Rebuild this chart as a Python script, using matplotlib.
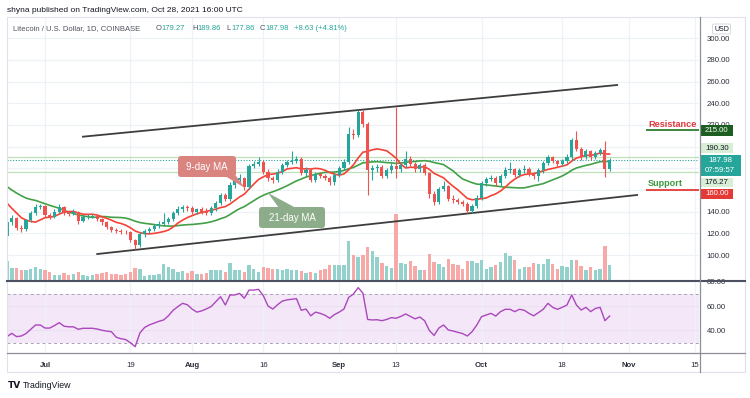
import numpy as np
import matplotlib
matplotlib.use("Agg")
import matplotlib.pyplot as plt
import matplotlib.dates as mdates
from matplotlib.patches import Rectangle, FancyBboxPatch, Polygon

plt.rcParams['font.family'] = ['Liberation Sans', 'DejaVu Sans']

# ---------------- data (LTC/USD, 1D, Coinbase) ----------------
first_date = "2021-06-23"
# closes of the 20 days before the first visible candle (MA warm-up)
prior_closes = [200, 183, 176, 178, 165, 163, 176, 170, 167, 167,
                173, 177, 176, 164, 163, 152, 150, 150, 127, 118]

opens = [118, 130, 134, 125, 124, 132, 139, 144, 145, 137,
         135, 140, 144, 139, 138, 140, 131, 135, 135.5, 136,
         133, 130, 126, 123, 122, 121.5, 121, 114, 109, 119,
         122, 124, 127, 129, 130, 133, 139, 142, 144, 143,
         140, 142, 140, 139, 143, 148, 155, 152, 165, 169,
         171, 163, 182, 184, 186, 177, 171, 169, 177, 183,
         186, 187, 189, 176, 178, 169, 175, 173, 171, 167,
         174, 180, 186, 212, 211, 232, 221, 178, 180, 181,
         173, 178, 182, 179, 183, 189, 184, 179, 183, 176,
         156, 149, 161, 164, 152, 151, 149, 147, 141, 145,
         153, 166, 170, 171, 166, 173, 178, 179, 174, 178,
         179, 175, 173, 178, 185, 190, 187, 184, 187, 190,
         206, 198, 190, 196, 190, 194, 197, 179.27]
highs = [136, 137, 135, 128, 133, 141, 147, 147, 146, 139,
         142, 147, 145, 141, 142, 141, 137, 138, 138, 138,
         134, 131, 127, 125, 124, 123, 122, 115, 121, 124,
         126, 129, 131, 139, 135, 141, 145, 146, 146, 145,
         143, 144, 143, 145, 150, 157, 157, 167, 171, 175,
         172, 184, 187, 190, 188, 179, 173, 179, 185, 188,
         196, 191, 190, 181, 179, 177, 177, 175, 173, 176,
         182, 189, 218, 216, 234, 234, 223, 183, 184, 183,
         180, 185, 237, 185, 196, 191, 186, 185, 185, 177,
         159, 163, 168, 165, 155, 153, 151, 149, 147, 155,
         168, 172, 174, 173, 175, 181, 186, 180, 180, 183,
         181, 177, 180, 187, 192, 191, 188, 189, 193, 208,
         214, 200, 198, 197, 196, 199, 205, 189.86]
lows = [116, 128, 123, 121, 122, 130, 137, 142, 135, 133,
        134, 139, 137, 136, 137, 129, 130, 133, 134, 131,
        128, 124, 121, 120, 119, 119, 112, 106, 107, 117,
        120, 122, 125, 127, 129, 131, 137, 140, 141, 138,
        138, 138, 137, 137, 141, 146, 150, 150, 162, 166,
        160, 161, 180, 182, 175, 168, 166, 167, 175, 181,
        184, 185, 174, 173, 167, 167, 171, 169, 165, 165,
        172, 178, 184, 207, 209, 218, 155, 169, 177, 171,
        171, 176, 171, 177, 181, 182, 177, 177, 174, 153,
        146, 147, 159, 150, 148, 147, 145, 139, 139, 143,
        151, 164, 168, 164, 164, 171, 176, 172, 172, 176,
        173, 170, 168, 176, 183, 185, 182, 182, 185, 188,
        196, 188, 189, 188, 189, 192, 172, 177.86]
closes = [130, 134, 125, 124, 132, 139, 144, 145, 137, 135,
          140, 144, 139, 138, 140, 131, 135, 135.5, 136, 133,
          130, 126, 123, 122, 121.5, 121, 114, 109, 119, 122,
          124, 127, 129, 130, 133, 139, 142, 144, 143, 140,
          142, 140, 139, 143, 148, 155, 152, 165, 169, 171,
          163, 182, 184, 186, 177, 171, 169, 177, 183, 186,
          187, 189, 176, 178, 169, 175, 173, 171, 167, 174,
          180, 186, 212, 211, 232, 221, 178, 180, 181, 173,
          178, 182, 179, 183, 189, 184, 179, 183, 176, 156,
          149, 161, 164, 152, 151, 149, 147, 141, 145, 153,
          166, 170, 171, 166, 173, 178, 179, 174, 178, 179,
          175, 173, 178, 185, 190, 187, 184, 187, 190, 206,
          198, 190, 196, 190, 194, 197, 179.27, 187.98]
volumes = [19, 12, 12, 9.5, 10, 11, 13, 11, 9.5, 8,
           5, 5, 7, 4.5, 6, 8, 4.5, 3.5, 5, 6,
           7, 8, 5.5, 5.5, 5, 5.5, 8, 12, 10.5, 4,
           4.5, 5, 5.5, 16, 13, 11, 8, 9, 7, 8.5,
           6, 5.5, 7, 9.5, 9.5, 9.5, 8, 17, 9.5, 10,
           8, 15, 11, 8, 13, 12, 11, 11, 9.5, 11,
           10, 9.5, 9, 7, 8, 7, 9.5, 11, 15, 15,
           15, 15, 38.5, 25, 22.8, 24.5, 33, 28.5, 22.8, 17,
           13.5, 11.8, 65.5, 17, 16, 18.5, 13.8, 10, 9.5, 25.5,
           17.8, 15.5, 12.8, 21, 15.5, 15, 11, 18.5, 18.5, 17,
           19.5, 10.5, 13, 14.5, 17.8, 26.8, 23.5, 20, 10.5, 13,
           13, 16.8, 15.5, 16, 21, 15.5, 10.5, 13.5, 13, 19.5,
           20, 14, 9.5, 13, 10, 11, 33.5, 14.5]
rsi_values = [35, 37.7, 35, 35.5, 37.5, 41, 44.5, 44.5, 42, 42,
              44, 46.4, 43.5, 43, 43, 41, 41.8, 41.8, 41.8, 41.2,
              40.2, 39.5, 39, 34.5, 33.3, 32.6, 30, 26.8, 38, 42.5,
              44.6, 46, 47.5, 48.6, 52, 56.5, 59.5, 62.2, 61, 57.5,
              55, 56, 57.6, 59.5, 63.5, 67.6, 60.8, 69, 69, 70.3,
              66.3, 73, 73, 73.6, 68.5, 60, 57.5, 61, 64, 65,
              65.5, 66, 56.5, 57.5, 52, 55, 54, 52.5, 50, 53,
              55, 57.5, 67, 69.8, 75, 70.5, 49, 48.6, 48.8, 48,
              49, 50.5, 50, 51.5, 53.5, 51.5, 49.5, 51, 48, 40,
              36, 42, 44.5, 40.4, 39.6, 38.5, 37.5, 35.5, 39, 44.5,
              51.3, 52.7, 54, 51.8, 55.4, 57.3, 57.3, 55.4, 57.3, 56.5,
              54, 52, 54.6, 57.3, 62.2, 58.9, 57.3, 58.9, 60.8, 69,
              60.8, 56.7, 58.9, 55.4, 58, 58.9, 48, 51.8]

ma_fast_len, ma_slow_len = 9, 21
resistance_level = 215.00
support_level = 160.00
level_line_start = "2021-11-04T16:00"
last_price = 187.98
drawn_levels = [190.30, 176.27]
channel_upper = (["2021-07-09", "2021-10-29T14:00"], [209.2, 256.9])
channel_lower = (["2021-07-12", "2021-11-02T19:00"], [100.9, 155.4])

price_ticks = [100, 120, 140, 160, 180, 200, 220, 240, 260, 280, 300]
# labels hidden behind the price tags on the axis are left blank
price_tick_labels = ["100.00", "120.00", "140.00", "", "", "", "220.00",
                     "240.00", "260.00", "280.00", "300.00"]
rsi_ticks = [40, 60, 80]
rsi_tick_labels = ["40.00", "60.00", "80.00"]
x_tick_dates = ["2021-07-01", "2021-07-19", "2021-08-01", "2021-08-16", "2021-09-01",
                "2021-09-13", "2021-10-01", "2021-10-18", "2021-11-01", "2021-11-15"]
x_tick_labels = ["Jul", "19", "Aug", "16", "Sep", "13", "Oct", "18", "Nov", "15"]
month_labels = {"Jul", "Aug", "Sep", "Oct", "Nov"}

assert len(opens) == len(highs) == len(lows) == len(closes) == len(volumes) == len(rsi_values) == 128

# ---------------- styles ----------------
TEAL = '#26a69a'
RED = '#ef5350'
TEAL_V = '#93d2cc'
RED_V = '#f7a9a7'
GRID = '#eef1f6'
TXT = '#2a2e39'

W, H = 750, 398
fig = plt.figure(figsize=(W / 100, H / 100), dpi=100)
fig.patch.set_facecolor('white')


def frac_rect(x0, y0, x1, y1):
    return [x0 / W, 1 - y1 / H, (x1 - x0) / W, (y1 - y0) / H]


o = np.array(opens, float)
h = np.array(highs, float)
l = np.array(lows, float)
c = np.array(closes, float)
v = np.array(volumes, float)
x0 = mdates.date2num(np.datetime64(first_date))
xs = x0 + np.arange(len(c))
jul1 = mdates.date2num(np.datetime64("2021-07-01"))
xlim = (jul1 - 8.01, jul1 + 137.83)
tick_x = [mdates.date2num(np.datetime64(d)) for d in x_tick_dates]
price_ylim = (76.93, 319.66)
rsi_ylim = (21.63, 80.41)

main_rect = frac_rect(7, 17, 699, 280)
rsi_rect = frac_rect(7, 281, 699, 353)

# background (grid) layer
ax_bg = fig.add_axes(main_rect, zorder=0)
ax_bg.set_xlim(xlim); ax_bg.set_ylim(price_ylim)
for tx in tick_x:
    ax_bg.axvline(tx, color=GRID, lw=0.9)
for ty in price_ticks:
    ax_bg.axhline(ty, color=GRID, lw=0.9)
ax_bg.axis('off')

# volume layer
ax_vol = fig.add_axes(main_rect, zorder=1)
ax_vol.patch.set_alpha(0)
up = c >= o
ax_vol.bar(xs, v, width=0.72, color=np.where(up, TEAL_V, RED_V), linewidth=0)
ax_vol.set_xlim(xlim)
ax_vol.set_ylim(0, max(volumes) * 4.0)
ax_vol.axis('off')

# price layer
ax = fig.add_axes(main_rect, zorder=2)
ax.patch.set_alpha(0)
ax.set_xlim(xlim); ax.set_ylim(price_ylim)
for s in ax.spines.values():
    s.set_visible(False)
ax.set_xticks([])
ax.yaxis.tick_right()
ax.set_yticks(price_ticks)
ax.set_yticklabels(price_tick_labels)
ax.tick_params(axis='y', length=0, pad=5.5, labelsize=5.6, labelcolor=TXT)

# drawn horizontal levels
for lv in drawn_levels:
    ax.axhline(lv, color='#bfe0bb', lw=0.9, zorder=1)
ax.axhline(last_price, color=TEAL, lw=0.8, ls=(0, (1, 1.5)), zorder=1)

# channel
ax.plot(mdates.date2num(np.array(channel_upper[0], dtype='datetime64[m]')), channel_upper[1],
        color='#3d3d3d', lw=1.3, zorder=2)
ax.plot(mdates.date2num(np.array(channel_lower[0], dtype='datetime64[m]')), channel_lower[1],
        color='#3d3d3d', lw=1.3, zorder=2)

# moving averages
all_c = np.array(prior_closes + closes, float)
ma_fast = np.convolve(all_c, np.ones(ma_fast_len) / ma_fast_len, mode='valid')[-len(c):]
ma_slow = np.convolve(all_c, np.ones(ma_slow_len) / ma_slow_len, mode='valid')[-len(c):]
ax.plot(xs, ma_slow, color='#43a047', lw=1.2, zorder=3)
ax.plot(xs, ma_fast, color='#f44336', lw=1.2, zorder=3)

# candles
cols = np.where(up, TEAL, RED)
ax.vlines(xs, l, h, colors=cols, lw=0.8, zorder=4)
ax.bar(xs, np.maximum(np.abs(c - o), 0.5), bottom=np.minimum(o, c), width=0.66,
       color=cols, linewidth=0, zorder=5)

# support / resistance lines
ls_x = mdates.date2num(np.datetime64(level_line_start))
ax.hlines(resistance_level, ls_x, xlim[1], color='#2e7d32', lw=1.3, zorder=3)
ax.hlines(support_level, ls_x, xlim[1], color='#e53935', lw=1.3, zorder=3)

# RSI pane
ax_r = fig.add_axes(rsi_rect, zorder=2)
ax_r.set_xlim(xlim); ax_r.set_ylim(rsi_ylim)
for s in ax_r.spines.values():
    s.set_visible(False)
ax_r.axhspan(30, 70, color='#f3e7f8', lw=0, zorder=0)
for tx in tick_x:
    ax_r.axvline(tx, color=GRID, lw=0.9, zorder=0.5)
for ty in (40, 60):
    ax_r.axhline(ty, color='#ebdff2', lw=0.8, zorder=0.6)
ax_r.axhline(70, color='#a8a2b4', lw=0.7, ls=(0, (3, 3)), zorder=1)
ax_r.axhline(30, color='#a8a2b4', lw=0.7, ls=(0, (3, 3)), zorder=1)
ax_r.plot(xs, rsi_values, color='#ab47bc', lw=1.0, zorder=3)
ax_r.yaxis.tick_right()
ax_r.set_yticks(rsi_ticks)
ax_r.set_yticklabels(rsi_tick_labels)
ax_r.tick_params(axis='y', length=0, pad=5.5, labelsize=5.6, labelcolor=TXT)
ax_r.set_xticks(tick_x)
ax_r.set_xticklabels(x_tick_labels)
ax_r.tick_params(axis='x', length=0, pad=6.5, labelsize=5.6, labelcolor=TXT)
for lab in ax_r.get_xticklabels():
    if lab.get_text() in month_labels:
        lab.set_fontweight('bold')

# ---------------- pixel overlay ----------------
ov = fig.add_axes([0, 0, 1, 1], zorder=10)
ov.set_xlim(0, W); ov.set_ylim(H, 0)
ov.axis('off')
ov.patch.set_alpha(0)

# frame and separators
ov.add_patch(Rectangle((7, 17), 738, 355, fill=False, edgecolor='#dfe2ea', lw=0.8))
ov.plot([7, 745], [280.5, 280.5], color='#4c5060', lw=1.5)
ov.plot([7, 745], [353, 353], color='#8c8f99', lw=0.9)
ov.plot([699.5, 699.5], [17, 372], color='#8c8f99', lw=0.9)

# header
ov.text(7, 10, "shyna published on TradingView.com, Oct 28, 2021 16:00 UTC",
        fontsize=6, color='#131722', va='center', ha='left')
ly = 28.5
ov.text(12.7, ly, "Litecoin / U.S. Dollar, 1D, COINBASE", fontsize=5.5, color='#50535e', va='center')
for lx, letter, nx, num in [(156, "O", 161.8, "179.27"), (192.3, "H", 197.8, "189.86"),
                            (226.7, "L", 231.2, "177.86"), (260, "C", 265.4, "187.98")]:
    ov.text(lx, ly, letter, fontsize=5.5, color='#50535e', va='center')
    ov.text(nx, ly, num, fontsize=5.5, color=TEAL, va='center')
ov.text(294.3, ly, "+8.63 (+4.81%)", fontsize=5.5, color=TEAL, va='center')

# USD box
ov.add_patch(FancyBboxPatch((712.5, 24), 18, 10, boxstyle="round,pad=0,rounding_size=1.5",
                            facecolor='white', edgecolor='#cfd2da', lw=0.6))
ov.text(721.5, 29.2, "USD", fontsize=5, color='#131722', ha='center', va='center')


def tag(yc, hgt, text, fc, tc, x1=733):
    ov.add_patch(Rectangle((699.5, yc - hgt / 2), x1 - 699.5, hgt, facecolor=fc, edgecolor='none'))
    ov.text((699.5 + x1) / 2 + 0.5, yc, text, fontsize=5.6, color=tc, ha='center', va='center')


tag(130.5, 11, f"{resistance_level:.2f}", '#1b5e20', 'white')
tag(148.0, 10, f"{drawn_levels[0]:.2f}", '#d9eed6', '#131722')
ov.add_patch(Rectangle((699.5, 154.5), 41, 21, facecolor=TEAL, edgecolor='none'))
ov.text(720, 160.3, f"{last_price:.2f}", fontsize=5.6, color='white', ha='center', va='center')
ov.text(720, 170.0, "07:59:57", fontsize=5.6, color='white', ha='center', va='center')
tag(182.5, 9.5, f"{drawn_levels[1]:.2f}", '#d9eed6', '#131722')
tag(193.5, 10, f"{support_level:.2f}", '#e53935', 'white')

# support / resistance text
ov.text(648, 124.5, "Resistance", fontsize=6.6, color='#e0393e', fontweight='bold', va='center')
ov.text(648, 183, "Support", fontsize=6.6, color='#3d9a40', fontweight='bold', va='center')

# MA callouts
ov.add_patch(Polygon([(225, 176), (236, 176), (245, 188)], closed=True, facecolor='#d9847f', edgecolor='none'))
ov.add_patch(FancyBboxPatch((178, 156), 58, 21, boxstyle="round,pad=0,rounding_size=3",
                            facecolor='#d9847f', edgecolor='none'))
ov.text(207, 166.8, "9-day MA", fontsize=7, color='white', ha='center', va='center')

ov.add_patch(Polygon([(279, 208), (296, 208), (268, 193)], closed=True, facecolor='#8dac89', edgecolor='none'))
ov.add_patch(FancyBboxPatch((259, 207), 66, 21, boxstyle="round,pad=0,rounding_size=3",
                            facecolor='#8dac89', edgecolor='none'))
ov.text(292, 217.8, "21-day MA", fontsize=7, color='white', ha='center', va='center')

# TradingView footer
ov.text(8, 385, "TV", fontsize=6.5, color='#131722', fontweight='bold', va='center',
        family='DejaVu Sans')
ov.text(23, 385, "TradingView", fontsize=6.3, color='#131722', va='center')

fig.savefig("out.png", dpi=100)
